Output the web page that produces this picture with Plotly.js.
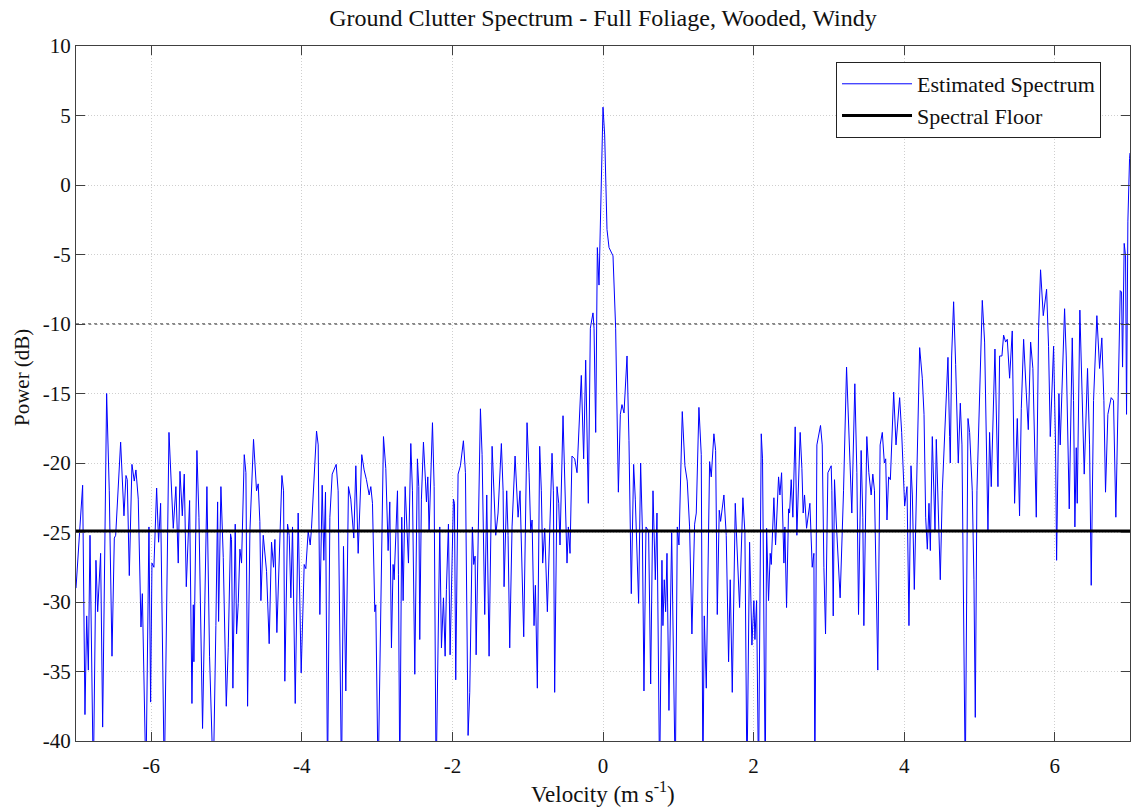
<!DOCTYPE html>
<html>
<head>
<meta charset="utf-8">
<script src="https://cdn.plot.ly/plotly-3.0.1.min.js"></script>
<style>
  html, body { margin: 0; padding: 0; background: #fff; }
  #chart { width: 1138px; height: 808px; }
</style>
</head>
<body>
<div id="chart"></div>
<script>
// Doppler velocity bins (m/s) of the estimated clutter spectrum
const velocity = [
  -7.000, -6.912, -6.881, -6.858, -6.836, -6.814, -6.770, -6.735, -6.712, -6.673,
  -6.646, -6.593, -6.558, -6.522, -6.491, -6.473, -6.407, -6.363, -6.336, -6.319,
  -6.292, -6.257, -6.226, -6.204, -6.173, -6.137, -6.119, -6.071, -6.031, -6.009,
  -5.991, -5.965, -5.929, -5.903, -5.876, -5.827, -5.765, -5.743, -5.708, -5.673,
  -5.642, -5.619, -5.588, -5.562, -5.535, -5.491, -5.460, -5.442, -5.434, -5.394,
  -5.367, -5.319, -5.261, -5.226, -5.177, -5.142, -5.119, -5.106, -5.075, -5.044,
  -5.004, -4.978, -4.947, -4.934, -4.916, -4.885, -4.867, -4.845, -4.823, -4.801,
  -4.765, -4.743, -4.721, -4.690, -4.642, -4.602, -4.580, -4.558, -4.544, -4.513,
  -4.469, -4.434, -4.403, -4.376, -4.358, -4.332, -4.265, -4.243, -4.226, -4.190,
  -4.168, -4.146, -4.124, -4.088, -4.049, -4.009, -3.969, -3.947, -3.916, -3.889,
  -3.872, -3.805, -3.783, -3.761, -3.730, -3.708, -3.686, -3.659, -3.628, -3.597,
  -3.544, -3.518, -3.473, -3.447, -3.416, -3.381, -3.350, -3.310, -3.283, -3.252,
  -3.204, -3.173, -3.142, -3.106, -3.084, -3.062, -3.031, -3.018, -2.987, -2.916,
  -2.885, -2.854, -2.832, -2.810, -2.788, -2.774, -2.730, -2.717, -2.699, -2.673,
  -2.655, -2.628, -2.611, -2.584, -2.553, -2.531, -2.500, -2.465, -2.447, -2.434,
  -2.412, -2.385, -2.358, -2.345, -2.327, -2.310, -2.265, -2.243, -2.217, -2.168,
  -2.146, -2.119, -2.097, -2.080, -2.053, -2.031, -1.987, -1.973, -1.956, -1.925,
  -1.894, -1.854, -1.827, -1.792, -1.770, -1.735, -1.717, -1.699, -1.685, -1.628,
  -1.606, -1.571, -1.544, -1.513, -1.473, -1.447, -1.425, -1.394, -1.350, -1.327,
  -1.314, -1.279, -1.261, -1.239, -1.208, -1.168, -1.137, -1.128, -1.102, -1.053,
  -1.009, -0.982, -0.960, -0.942, -0.916, -0.898, -0.872, -0.841, -0.819, -0.801,
  -0.774, -0.739, -0.677, -0.659, -0.642, -0.611, -0.588, -0.571, -0.531, -0.509,
  -0.478, -0.460, -0.438, -0.412, -0.376, -0.345, -0.288, -0.257, -0.230, -0.195,
  -0.168, -0.133, -0.119, -0.097, -0.075, -0.053, -0.035, 0.000, 0.022, 0.035,
  0.053, 0.080, 0.133, 0.168, 0.186, 0.204, 0.230, 0.252, 0.279, 0.319,
  0.345, 0.376, 0.407, 0.429, 0.473, 0.500, 0.522, 0.544, 0.571, 0.606,
  0.633, 0.664, 0.695, 0.717, 0.752, 0.783, 0.796, 0.814, 0.832, 0.850,
  0.876, 0.912, 0.960, 0.987, 1.009, 1.053, 1.088, 1.119, 1.150, 1.181,
  1.217, 1.239, 1.274, 1.305, 1.327, 1.345, 1.372, 1.416, 1.438, 1.473,
  1.496, 1.518, 1.544, 1.562, 1.606, 1.637, 1.668, 1.690, 1.717, 1.757,
  1.779, 1.814, 1.858, 1.885, 1.912, 1.947, 1.978, 2.004, 2.018, 2.040,
  2.066, 2.102, 2.119, 2.155, 2.173, 2.199, 2.221, 2.235, 2.270, 2.292,
  2.332, 2.350, 2.372, 2.403, 2.416, 2.438, 2.465, 2.478, 2.500, 2.522,
  2.553, 2.575, 2.619, 2.642, 2.659, 2.677, 2.704, 2.748, 2.779, 2.801,
  2.814, 2.841, 2.889, 2.912, 2.934, 2.956, 2.987, 3.031, 3.040, 3.058,
  3.075, 3.097, 3.150, 3.195, 3.235, 3.261, 3.305, 3.345, 3.372, 3.394,
  3.429, 3.451, 3.465, 3.504, 3.531, 3.562, 3.584, 3.606, 3.650, 3.681,
  3.710, 3.737, 3.755, 3.772, 3.794, 3.817, 3.861, 3.892, 3.940, 3.967,
  4.007, 4.038, 4.064, 4.091, 4.109, 4.135, 4.162, 4.206, 4.241, 4.264,
  4.286, 4.308, 4.330, 4.348, 4.374, 4.392, 4.410, 4.427, 4.449, 4.480,
  4.507, 4.538, 4.560, 4.582, 4.604, 4.613, 4.631, 4.657, 4.684, 4.719,
  4.746, 4.768, 4.812, 4.848, 4.870, 4.905, 4.927, 4.945, 4.967, 5.038,
  5.069, 5.091, 5.113, 5.135, 5.157, 5.206, 5.246, 5.268, 5.299, 5.321,
  5.348, 5.370, 5.401, 5.436, 5.467, 5.503, 5.533, 5.556, 5.587, 5.622,
  5.649, 5.680, 5.710, 5.755, 5.786, 5.812, 5.848, 5.892, 5.918, 5.941,
  5.985, 6.011, 6.025, 6.056, 6.073, 6.131, 6.153, 6.193, 6.233, 6.250,
  6.268, 6.286, 6.299, 6.334, 6.357, 6.392, 6.436, 6.463, 6.485, 6.516,
  6.560, 6.582, 6.596, 6.626, 6.653, 6.675, 6.706, 6.750, 6.781, 6.812,
  6.839, 6.870, 6.888, 6.901, 6.923, 6.941, 6.954, 6.972, 6.994, 7.000
];

// Estimated spectral power (dB) at each velocity bin
const power = [
  -29.0, -21.6, -38.1, -31.0, -34.9, -25.2, -43, -27.0, -30.7, -26.5,
  -39.0, -15.0, -22.0, -33.9, -25.4, -25.2, -18.5, -23.8, -20.9, -21.2,
  -28.1, -20.1, -21.3, -20.5, -22.6, -31.8, -29.4, -43, -24.6, -37.2,
  -27.2, -27.5, -21.8, -25.7, -22.9, -43, -17.8, -20.7, -24.7, -21.7,
  -27.2, -20.6, -23.8, -20.8, -28.9, -22.7, -37.3, -30.2, -34.3, -19.1,
  -23.9, -39.1, -21.7, -33.9, -43, -31.7, -22.8, -31.4, -21.7, -26.8,
  -37.5, -33.3, -25.1, -25.5, -36.2, -24.4, -32.3, -30.1, -26.2, -27.2,
  -19.4, -20.7, -37.5, -24.9, -18.3, -22.0, -21.5, -24.2, -29.9, -25.2,
  -27.8, -33.0, -25.7, -27.5, -25.5, -32.2, -20.9, -22.0, -35.7, -24.4,
  -25.2, -29.7, -24.6, -37.3, -23.6, -35.1, -27.3, -27.6, -24.9, -25.9,
  -24.7, -17.7, -18.7, -30.9, -21.6, -27.0, -22.1, -43, -23.9, -20.8,
  -20.1, -22.0, -43, -26.0, -36.4, -21.7, -22.6, -25.4, -20.2, -26.5,
  -19.4, -20.5, -21.2, -22.3, -21.7, -22.9, -30.7, -30.2, -43, -18.1,
  -20.4, -26.3, -22.8, -33.3, -27.3, -28.4, -22.0, -28.0, -43, -23.9,
  -29.9, -21.7, -23.6, -27.2, -18.6, -22.0, -35.2, -19.7, -21.7, -32.7,
  -22.6, -18.5, -21.3, -22.8, -21.0, -24.9, -17.1, -21.7, -43, -24.6,
  -33.3, -29.7, -33.9, -29.1, -24.4, -33.8, -22.6, -22.9, -35.6, -20.8,
  -20.2, -18.4, -20.7, -39.6, -36.5, -24.6, -27.3, -26.7, -33.8, -16.1,
  -19.4, -30.9, -22.3, -33.9, -18.8, -22.9, -25.2, -23.6, -18.6, -22.0,
  -28.9, -22.0, -25.2, -33.3, -24.6, -19.5, -22.9, -23.9, -22.0, -32.5,
  -17.1, -20.7, -25.0, -24.1, -31.7, -28.8, -36.2, -18.8, -22.0, -27.2,
  -24.7, -30.7, -19.3, -22.0, -36.5, -21.7, -22.9, -25.9, -16.6, -20.7,
  -27.2, -24.6, -26.5, -19.5, -19.7, -20.7, -13.7, -19.7, -12.6, -22.9,
  -10.3, -9.2, -10.3, -17.8, -4.5, -7.2, -2.6, 5.6, 3.6, -0.3,
  -3.2, -4.5, -5.1, -10.3, -17.4, -22.1, -16.5, -15.8, -16.4, -12.3,
  -18.4, -29.4, -20.1, -22.6, -30.1, -20.0, -24.6, -36.4, -24.6, -24.9,
  -35.9, -22.0, -28.4, -23.6, -43, -27.0, -31.7, -28.4, -30.7, -26.5,
  -37.8, -25.0, -43, -24.6, -25.9, -16.3, -20.2, -21.3, -24.6, -32.3,
  -24.4, -23.6, -16.0, -19.4, -43, -31.0, -36.2, -19.9, -21.0, -17.9,
  -19.1, -30.9, -23.4, -24.2, -22.3, -25.2, -34.3, -28.4, -36.5, -22.9,
  -25.9, -30.4, -22.5, -25.0, -43, -25.7, -33.1, -29.9, -32.7, -29.9,
  -43, -17.9, -19.7, -43, -24.7, -29.9, -26.5, -27.3, -22.5, -25.9,
  -21.0, -22.3, -20.7, -27.2, -24.6, -30.4, -23.3, -23.6, -21.2, -23.9,
  -17.4, -25.2, -17.8, -20.4, -23.6, -22.3, -24.7, -22.9, -27.5, -26.5,
  -43, -18.7, -17.3, -18.7, -27.5, -32.3, -20.7, -20.2, -22.0, -31.0,
  -21.2, -24.1, -29.7, -22.0, -13.1, -17.4, -23.6, -14.3, -20.7, -30.9,
  -19.1, -23.9, -31.7, -18.1, -20.7, -22.3, -20.8, -22.0, -34.9, -18.7,
  -17.8, -20.0, -19.7, -24.1, -21.0, -21.2, -14.9, -18.7, -15.3, -17.8,
  -23.1, -21.7, -31.7, -20.2, -22.3, -29.1, -22.0, -11.7, -13.9, -16.5,
  -23.9, -26.2, -22.9, -26.3, -18.1, -21.7, -24.9, -18.3, -22.0, -28.4,
  -22.0, -18.1, -15.5, -12.4, -18.1, -20.0, -12.3, -8.4, -12.9, -20.0,
  -15.7, -18.7, -43, -16.8, -17.8, -22.0, -28.4, -38.3, -22.0, -8.3,
  -11.3, -17.8, -24.9, -17.8, -21.7, -11.8, -21.7, -12.3, -12.3, -10.8,
  -11.3, -11.1, -13.9, -10.5, -22.9, -16.8, -23.8, -16.1, -11.1, -14.9,
  -17.6, -11.3, -13.2, -23.9, -10.3, -6.1, -9.4, -7.5, -11.6, -18.1,
  -11.6, -18.7, -27.0, -15.0, -18.7, -8.9, -12.3, -23.3, -11.0, -15.5,
  -24.6, -18.9, -22.9, -9.0, -13.9, -20.8, -13.2, -18.7, -28.8, -15.5,
  -9.4, -12.3, -13.2, -11.0, -15.5, -22.1, -16.5, -15.3, -15.5, -23.9,
  -16.1, -7.6, -7.7, -13.1, -4.2, -5.1, -16.5, -2.6, 1.9, 2.3
];

// Spectral floor (dB) across the full velocity span
const floorVelocity = [-7, 7];
const floorPower = [-24.9, -24.9];

// Axis ticks
const xTicks = [-6, -4, -2, 0, 2, 4, 6];
const yTicks = [10, 5, 0, -5, -10, -15, -20, -25, -30, -35, -40];

const serif = "Liberation Serif, Times New Roman, serif";

const traces = [
  {
    x: velocity, y: power,
    type: 'scatter', mode: 'lines',
    name: 'Estimated Spectrum',
    line: { color: '#0000ff', width: 1 }
  },
  {
    x: floorVelocity, y: floorPower,
    type: 'scatter', mode: 'lines',
    name: 'Spectral Floor',
    line: { color: '#000000', width: 3 }
  }
];

const axisCommon = {
  showline: true, linecolor: '#404040', linewidth: 1,
  mirror: 'ticks', ticks: 'inside', ticklen: 9, tickcolor: '#404040',
  showgrid: true, gridcolor: '#cfcfcf', griddash: '1px,2px', gridwidth: 1,
  zeroline: false,
  tickfont: { family: serif, size: 21, color: '#111' }
};

const layout = {
  width: 1138, height: 808,
  margin: { l: 76, r: 8, t: 46, b: 67 },
  paper_bgcolor: '#fff', plot_bgcolor: '#fff',
  title: {
    text: 'Ground Clutter Spectrum - Full Foliage, Wooded, Windy',
    font: { family: serif, size: 24, color: '#111' },
    x: 0.5, xref: 'paper', xanchor: 'center',
    y: 0.978, yref: 'container', yanchor: 'middle'
  },
  xaxis: Object.assign({}, axisCommon, {
    range: [-7, 7], tickvals: xTicks,
    ticktext: xTicks.map(v => v < 0 ? '-' + Math.abs(v) : String(v)),
    ticklabelstandoff: 6
  }),
  yaxis: Object.assign({}, axisCommon, {
    range: [-40, 10], tickvals: yTicks,
    ticktext: yTicks.map(v => v < 0 ? '-' + Math.abs(v) : String(v))
  }),
  annotations: [
    {
      text: 'Velocity (m s<sup>-1</sup>)',
      xref: 'paper', yref: 'paper', x: 0.5, y: -0.0748,
      xanchor: 'center', yanchor: 'middle', showarrow: false,
      font: { family: serif, size: 23, color: '#111' }
    },
    {
      text: 'Power (dB)', textangle: -90,
      xref: 'paper', yref: 'paper', x: -0.0512, y: 0.5223,
      xanchor: 'center', yanchor: 'middle', showarrow: false,
      font: { family: serif, size: 21, color: '#111' }
    }
  ],
  shapes: [
    {
      type: 'line', xref: 'paper', yref: 'y',
      x0: 0, x1: 1, y0: -10, y1: -10,
      line: { color: '#8a8a8a', width: 2, dash: 'dot' },
      layer: 'below'
    }
  ],
  legend: {
    x: 0.9725, y: 0.977, xanchor: 'right', yanchor: 'top',
    bgcolor: '#fff', bordercolor: '#222', borderwidth: 1,
    font: { family: serif, size: 22, color: '#111' },
    tracegroupgap: 0, itemwidth: 70
  },
  showlegend: true
};

Plotly.newPlot('chart', traces, layout, { displayModeBar: false, staticPlot: true });
</script>
</body>
</html>
